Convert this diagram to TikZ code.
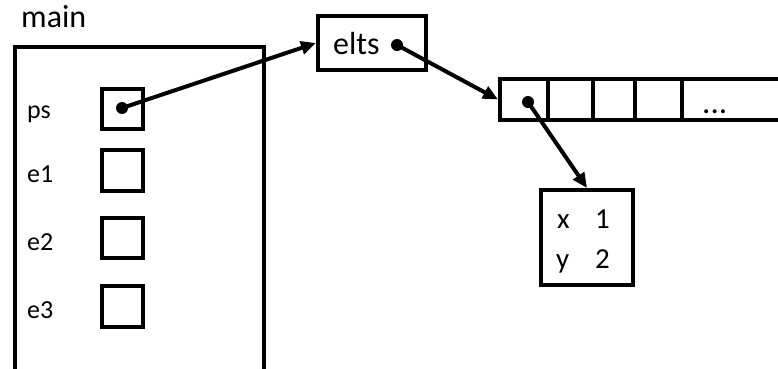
\documentclass[tikz,border=0pt]{standalone}
\usepackage{fontspec}
\setmainfont{Carlito}
\usetikzlibrary{arrows.meta}
\tikzset{
  box/.style={draw, line width=4pt, inner sep=0pt, minimum width=#1},
  cell/.style={draw, line width=4pt, inner sep=0pt, minimum height=41pt, minimum width=#1},
  dot/.style={circle, fill, inner sep=0pt, minimum size=12pt},
  ptr/.style={line width=4pt, -{Triangle[length=15pt,width=13pt]}},
  lbl/.style={anchor=base west, inner sep=0pt, font=\fontsize{26}{30}\selectfont},
  big/.style={anchor=base west, inner sep=0pt, font=\fontsize{32}{36}\selectfont},
  fld/.style={anchor=base west, inner sep=0pt, font=\fontsize{29}{33}\selectfont}
}
\begin{document}
\begin{tikzpicture}[x=1pt, y=-1pt]
\clip (0,0) rectangle (778,368);
\fill[white] (0,0) rectangle (778,368);
% main frame
\node[big] (mainlbl) at (21,27) {main};
\node[box=249pt, minimum height=406pt] (mainframe) at (139.5,250) {};
\node[lbl] (lps) at (27,118) {ps};
\node[lbl] (le1) at (27,182) {e1};
\node[lbl] (le2) at (27,250) {e2};
\node[lbl] (le3) at (27,318) {e3};
\node[box=41pt, minimum height=40pt] (ps) at (122.5,109) {};
\node[box=41pt, minimum height=41pt] (e1) at (122.5,170.5) {};
\node[box=41pt, minimum height=40pt] (e2) at (122.5,237.5) {};
\node[box=41pt, minimum height=41pt] (e3) at (122.5,306.5) {};
\node[dot] (psdot) at (122,108) {};
% elts
\node[box=108pt, minimum height=54pt] (elts) at (372,43) {};
\node[big] (eltstxt) at (333,54) {elts};
\node[dot] (eltsdot) at (397,45) {};
% array
\node[cell=48pt] (c1) at (524,99.5) {};
\node[cell=45pt] (c2) at (570.5,99.5) {};
\node[cell=42pt] (c3) at (614,99.5) {};
\node[cell=47pt] (c4) at (658.5,99.5) {};
\node[cell=140pt] (c5) at (752,99.5) {};
\node[anchor=base west, inner sep=0pt, font=\fontsize{33}{36}\selectfont] (dots) at (702,113) {...};
\node[dot] (c1dot) at (528,102) {};
% point object
\node[box=92pt, minimum height=95pt] (pt) at (587,237.5) {};
\node[fld] (fx) at (557,228) {x};
\node[fld] (f1) at (595,228) {1};
\node[fld] (fy) at (556,268) {y};
\node[fld] (f2) at (595,268) {2};
% pointers
\draw[ptr] (psdot.center) -- (elts.west);
\draw[ptr] (eltsdot.center) -- (c1.west);
\draw[ptr] (c1dot.center) -- (pt.north);
\end{tikzpicture}
\end{document}
